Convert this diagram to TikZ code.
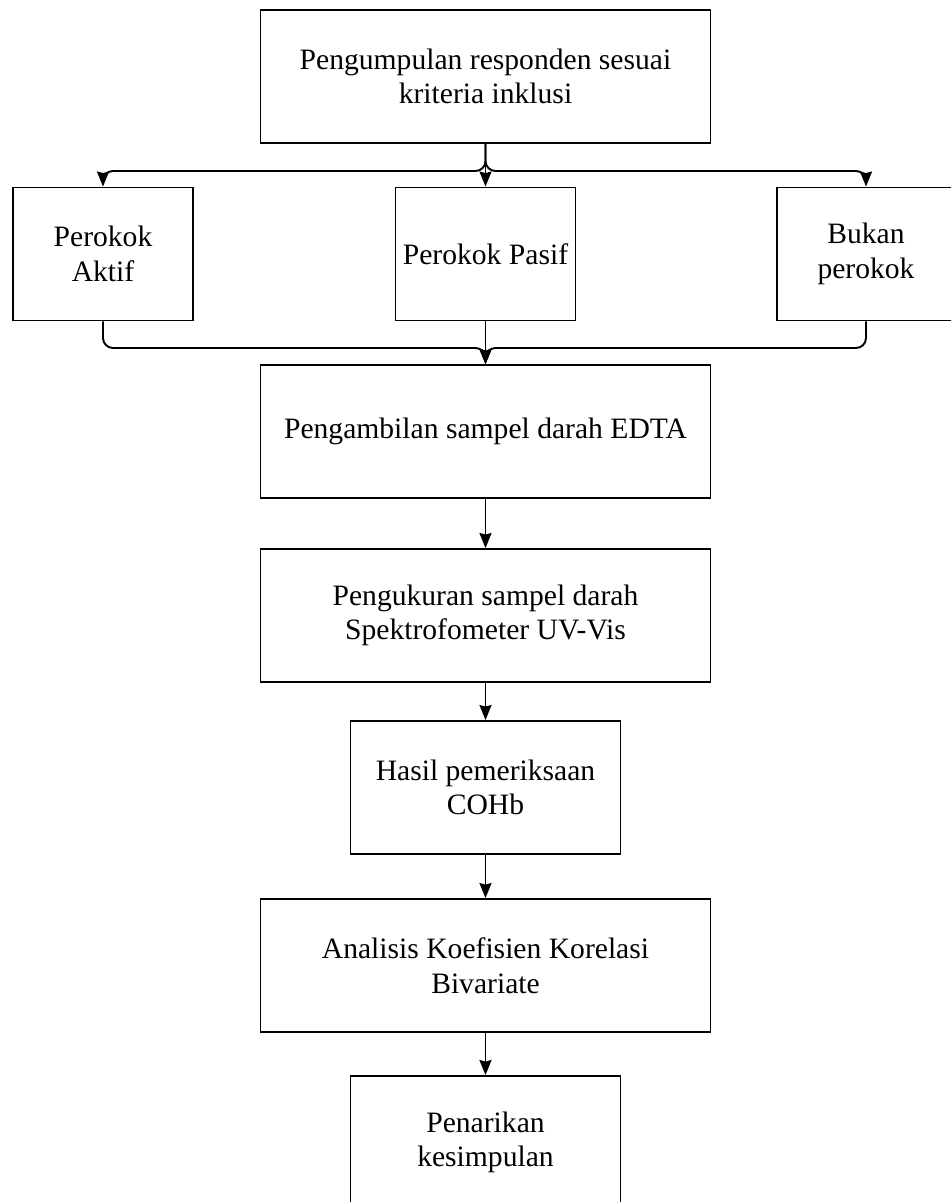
\documentclass[tikz,border=0pt]{standalone}
\usepackage{fontspec}
\setmainfont{Liberation Serif}
\usetikzlibrary{arrows.meta}

\tikzset{
  kotak/.style={draw, line width=1.9pt, minimum height=133pt, inner sep=0pt,
    align=center, font=\fontsize{29.6}{34.5}\selectfont},
  panah/.style={line width=1.9pt, -{Stealth[length=15pt,width=12pt,inset=1.5pt]}},
}

\begin{document}
\begin{tikzpicture}[x=1pt,y=-1pt]
\useasboundingbox (0,0) rectangle (951,1202);
\clip (0,0) rectangle (951,1202);

\node[kotak, minimum width=450pt] (kriteria) at (485.5,76.5) {Pengumpulan responden sesuai\\kriteria inklusi};

\node[kotak, minimum width=180pt] (aktif) at (103,254) {Perokok\\Aktif};
\node[kotak, minimum width=180pt] (pasif) at (485.5,254) {Perokok Pasif};
\node[kotak, minimum width=178pt] (bukan) at (866,254) {Bukan\\perokok};

\node[kotak, minimum width=450pt] (edta) at (485.5,431.5) {Pengambilan sampel darah EDTA};
\node[kotak, minimum width=450pt] (ukur) at (485.5,615.5) {Pengukuran sampel darah\\Spektrofometer UV-Vis};
\node[kotak, minimum width=270pt] (cohb) at (485.5,787.5) {Hasil pemeriksaan\\COHb};
\node[kotak, minimum width=450pt] (analisis) at (485.5,965.5) {Analisis Koefisien Korelasi\\Bivariate};
\node[kotak, minimum width=270pt] (simpulan) at (485.5,1142.5) {Penarikan\\kesimpulan};

\coordinate (cabang) at (485.5,171);
\coordinate (gabung) at (485.5,348);

\draw[panah, rounded corners=10pt] (kriteria.south) -- (cabang) -| (aktif.north);
\draw[panah] (kriteria.south) -- (pasif.north);
\draw[panah, rounded corners=10pt] (kriteria.south) -- (cabang) -| (bukan.north);

\draw[panah, rounded corners=10pt] (aktif.south) |- (gabung) -- (edta.north);
\draw[panah] (pasif.south) -- (edta.north);
\draw[panah, rounded corners=10pt] (bukan.south) |- (gabung) -- (edta.north);

\draw[panah] (edta) -- (ukur);
\draw[panah] (ukur) -- (cohb);
\draw[panah] (cohb) -- (analisis);
\draw[panah] (analisis) -- (simpulan);
\end{tikzpicture}
\end{document}
